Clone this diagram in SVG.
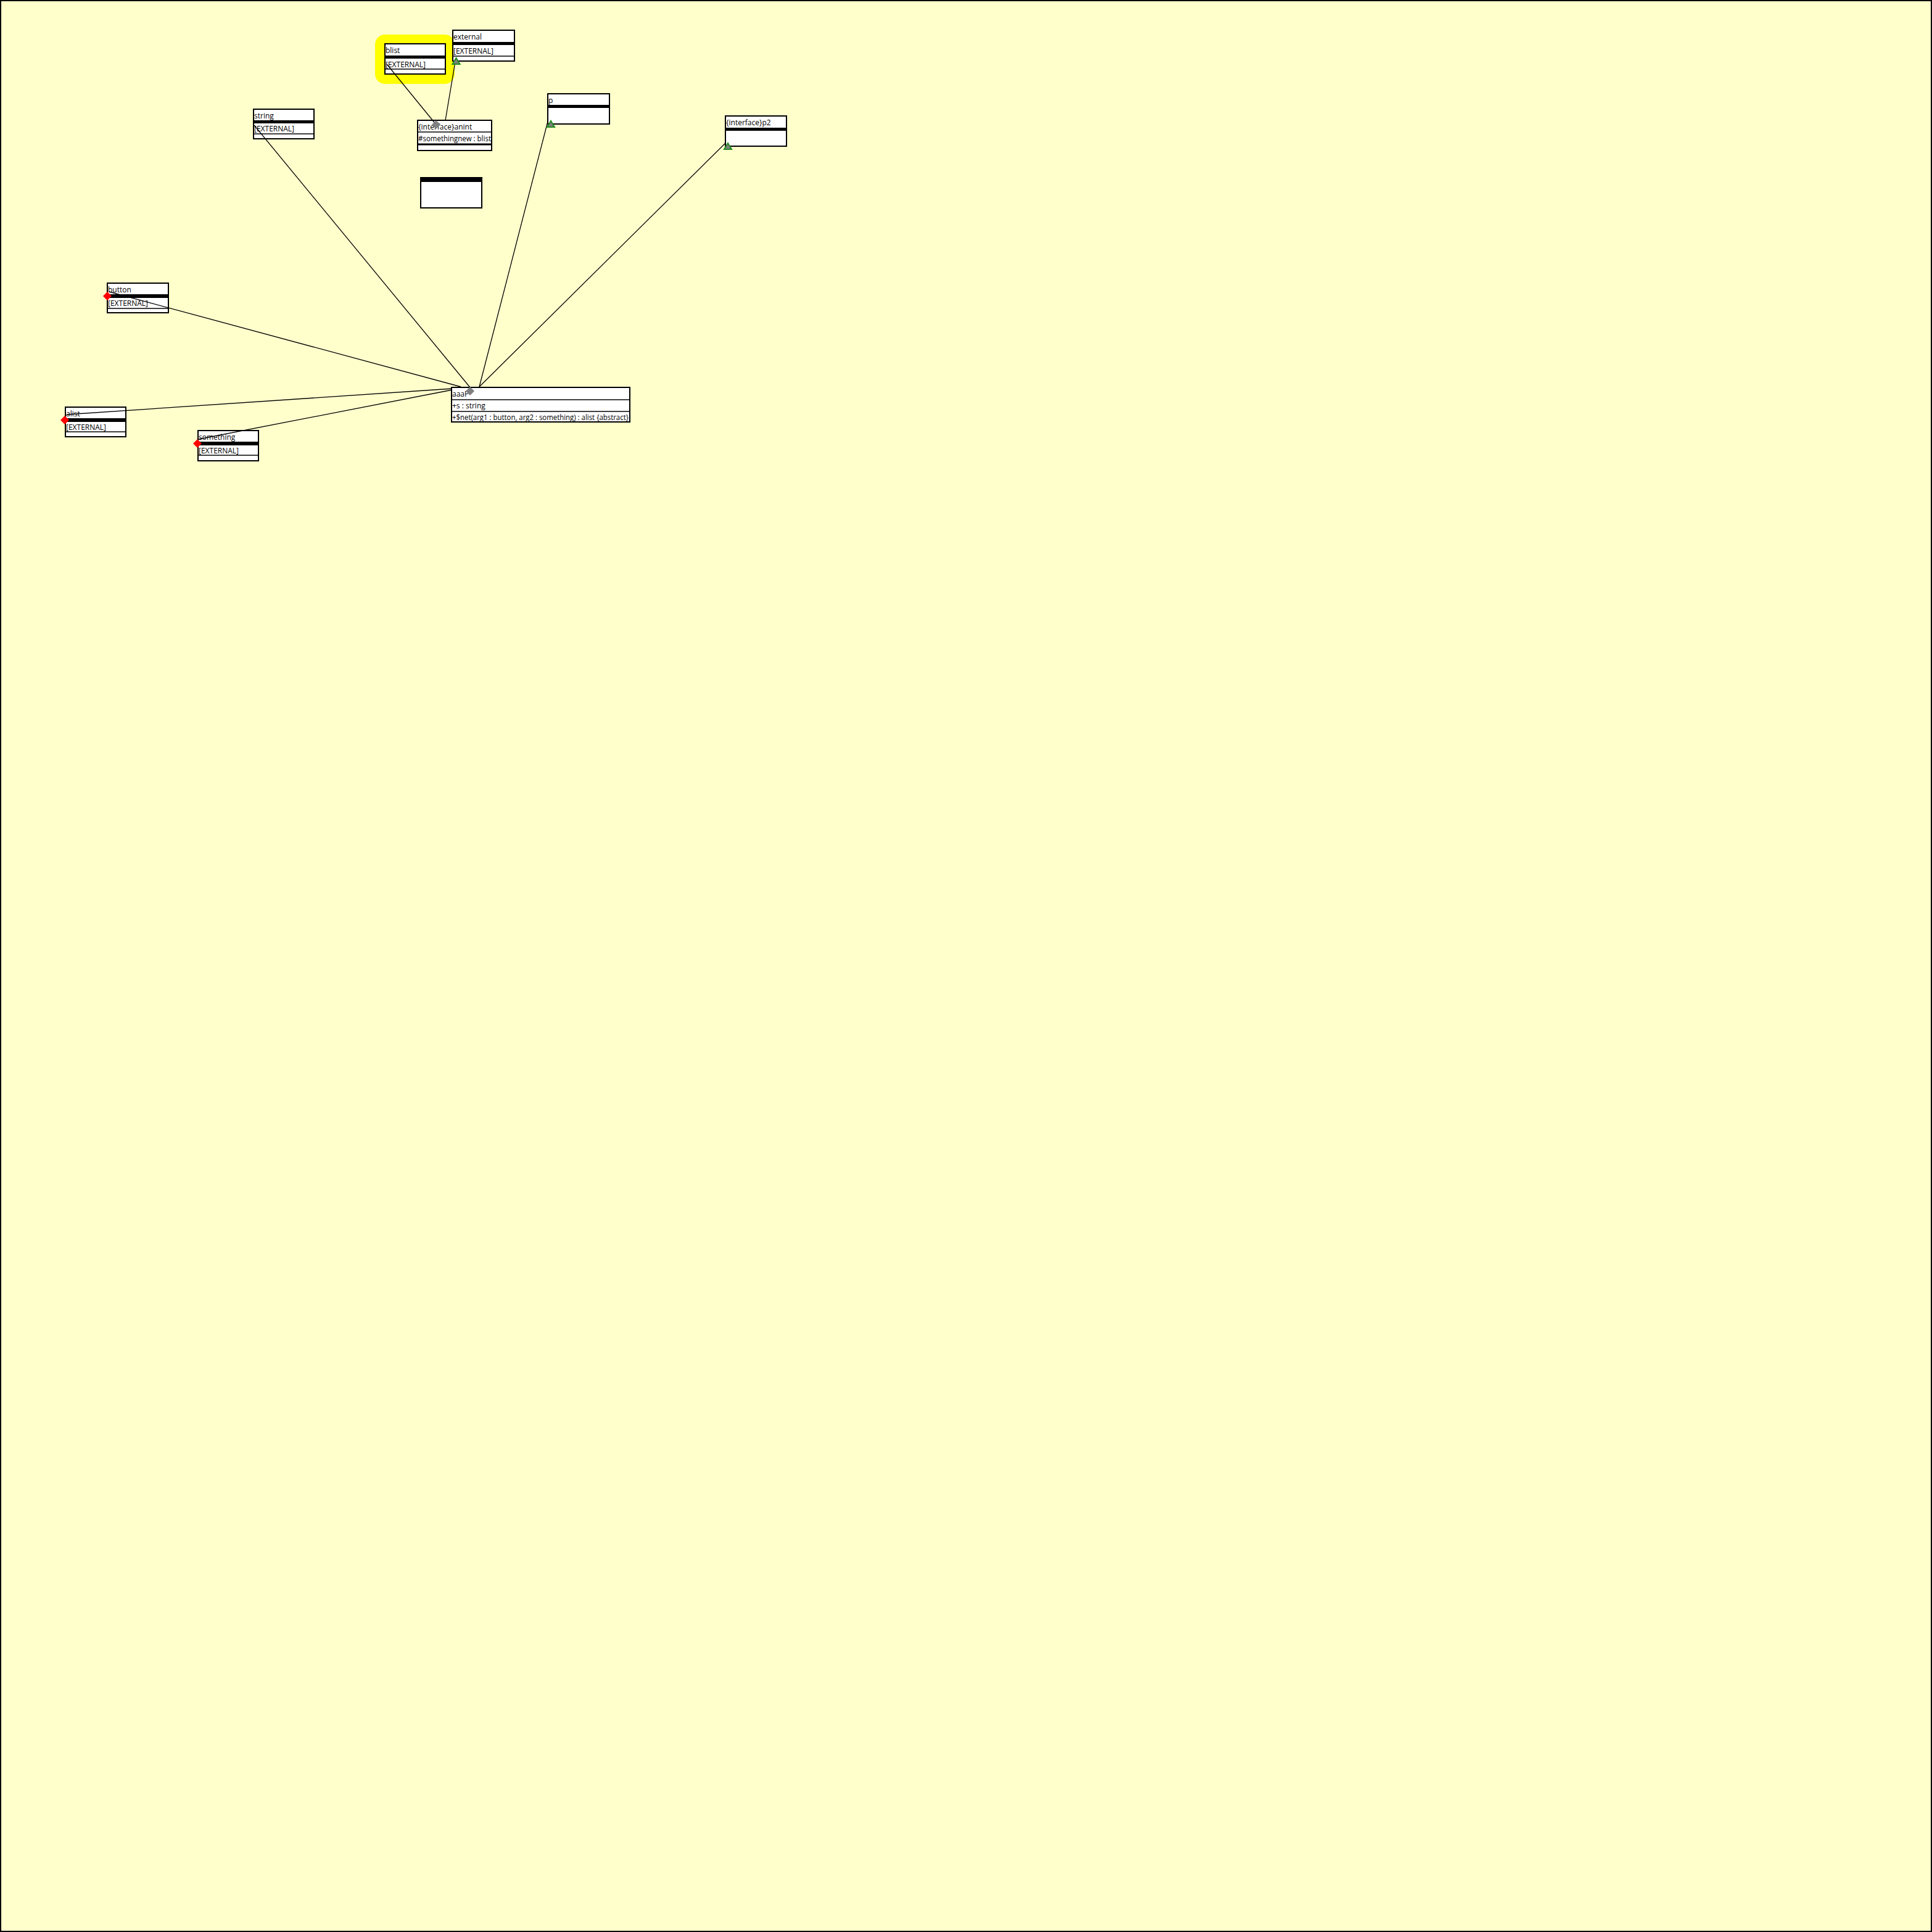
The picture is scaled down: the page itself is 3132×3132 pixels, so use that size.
<svg xmlns="http://www.w3.org/2000/svg" width="3132" height="3132" viewBox="0 0 3132 3132">
<defs>
<style>
.bg{fill:#FFFFCC;stroke:#000;stroke-width:2}
.box{fill:#fff;stroke:#000;stroke-width:2}
.sep{stroke:#000;stroke-width:1.5}
.bar{fill:#000}
.t{font-family:"Open Sans","Noto Sans","DejaVu Sans",sans-serif;font-size:12px;fill:#000}
.conn line{stroke:#000;stroke-width:1.3}
.tri{fill:#808080;stroke:#228B22;stroke-width:2}
.gd{fill:#808080}
.rd{fill:#FF0000}
</style>
</defs>
<rect class="bg" x="1" y="1" width="3130" height="3130"/>
<rect x="608" y="56" width="129" height="80" rx="16" ry="16" fill="#FFFF00"/>

<g id="node-blist">
<rect class="box" x="624" y="71" width="98" height="49"/>
<rect class="bar" x="624" y="90" width="98" height="5"/>
<line class="sep" x1="624" y1="112" x2="722" y2="112"/>
<text class="t" x="625" y="86">blist</text>
<text class="t" x="625" y="109">[EXTERNAL]</text>
</g>

<g id="node-external">
<rect class="box" x="734" y="49" width="100" height="50"/>
<rect class="bar" x="734" y="68" width="100" height="5"/>
<line class="sep" x1="734" y1="91" x2="834" y2="91"/>
<text class="t" x="735" y="64">external</text>
<text class="t" x="735" y="87">[EXTERNAL]</text>
</g>

<g id="node-string">
<rect class="box" x="411" y="177" width="98" height="48"/>
<rect class="bar" x="411" y="195" width="98" height="5"/>
<line class="sep" x1="411" y1="217" x2="509" y2="217"/>
<text class="t" x="412" y="192">string</text>
<text class="t" x="412" y="213">[EXTERNAL]</text>
</g>

<g id="node-anint">
<rect class="box" x="677" y="195" width="120" height="49"/>
<line class="sep" x1="677" y1="214" x2="797" y2="214"/>
<rect class="bar" x="677" y="232.5" width="120" height="3"/>
<text class="t" x="678" y="210">{interface}anint</text>
<text class="t" x="678" y="229" textLength="118" lengthAdjust="spacingAndGlyphs">#somethingnew : blist</text>
</g>

<g id="node-empty">
<rect class="box" x="682" y="288" width="99" height="49"/>
<rect class="bar" x="682" y="288" width="99" height="7"/>
</g>

<g id="node-p">
<rect class="box" x="888" y="152" width="100" height="49"/>
<rect class="bar" x="888" y="170" width="100" height="5"/>
<text class="t" x="889" y="167">p</text>
</g>

<g id="node-p2">
<rect class="box" x="1176" y="188" width="99" height="49"/>
<rect class="bar" x="1176" y="207" width="99" height="5"/>
<text class="t" x="1177" y="203">{interface}p2</text>
</g>

<g id="node-button">
<rect class="box" x="174" y="459" width="99" height="48"/>
<rect class="bar" x="174" y="477" width="99" height="6"/>
<line class="sep" x1="174" y1="500" x2="273" y2="500"/>
<text class="t" x="175" y="474">button</text>
<text class="t" x="175" y="496">[EXTERNAL]</text>
</g>

<g id="node-alist">
<rect class="box" x="106" y="660" width="98" height="48"/>
<rect class="bar" x="106" y="678" width="98" height="6"/>
<line class="sep" x1="106" y1="700" x2="204" y2="700"/>
<text class="t" x="107" y="675">alist</text>
<text class="t" x="107" y="697">[EXTERNAL]</text>
</g>

<g id="node-something">
<rect class="box" x="321" y="698" width="98" height="49"/>
<rect class="bar" x="321" y="716" width="98" height="6"/>
<line class="sep" x1="321" y1="738" x2="419" y2="738"/>
<text class="t" x="322" y="713">something</text>
<text class="t" x="322" y="735">[EXTERNAL]</text>
</g>

<g id="node-aaaP">
<rect class="box" x="732" y="628" width="289" height="56"/>
<line class="sep" x1="732" y1="648" x2="1021" y2="648"/>
<line class="sep" x1="732" y1="667" x2="1021" y2="667"/>
<text class="t" x="733" y="643">aaaP</text>
<text class="t" x="733" y="662">+s : string</text>
<text class="t" x="733" y="681" textLength="286" lengthAdjust="spacingAndGlyphs">+$net(arg1 : button, arg2 : something) : alist {abstract}</text>
</g>

<g id="connectors" class="conn">
<line x1="627" y1="104" x2="707" y2="202"/>
<line x1="722" y1="195" x2="738" y2="100"/>
<line x1="412" y1="203" x2="762" y2="628"/>
<line x1="888" y1="197" x2="777" y2="627"/>
<line x1="1176" y1="232" x2="777" y2="627"/>
<line x1="177" y1="473" x2="747" y2="627"/>
<line x1="108" y1="672" x2="733" y2="630"/>
<line x1="322" y1="712" x2="733" y2="632"/>
</g>

<g id="markers">
<polygon class="tri" points="739.5,94 733.5,104 745.5,104"/>
<polygon class="tri" points="893,196 887,206 899,206"/>
<polygon class="tri" points="1180,232 1174,242 1186,242"/>
<polygon class="gd" points="707,195 714,202 707,209 700,202"/>
<polygon class="gd" points="762,627 769,634 762,641 755,634"/>
<polygon class="rd" points="174,473 181,480 174,487 167,480"/>
<polygon class="rd" points="105,674 112,681 105,688 98,681"/>
<polygon class="rd" points="320,712 327,719 320,726 313,719"/>
</g>
</svg>
